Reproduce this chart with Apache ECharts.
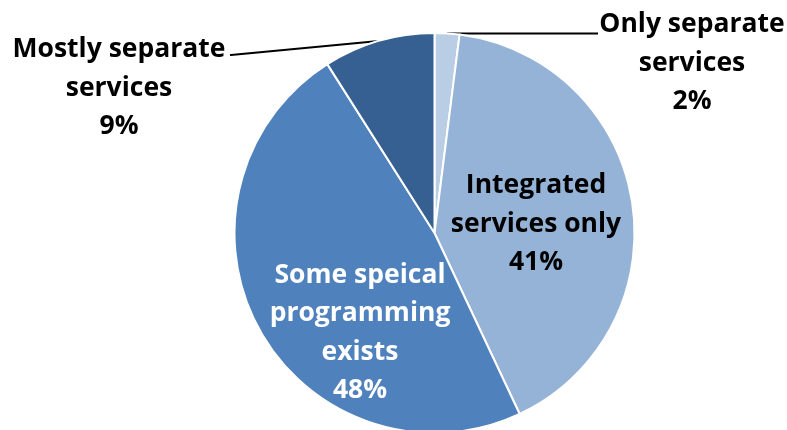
<!DOCTYPE html>
<html><head><meta charset="utf-8">
<script src="https://cdn.jsdelivr.net/npm/echarts@6/dist/echarts.min.js"></script>
<style>html,body{margin:0;padding:0;background:#fff}#c{width:787px;height:430px}</style>
</head><body><div id="c"></div>
<script>
var categories = ['Only separate\nservices', 'Integrated\nservices only', 'Some speical\nprogramming\nexists', 'Mostly separate\nservices'];
var values = [2, 41, 48, 9];
var colors = ['#B9CDE5', '#95B3D7', '#4F81BD', '#376092'];
var labelColors = ['#000', '#000', '#fff', '#000'];
var labelPos = [[692, 63], [536, 224], [360, 333], [119, 88]];

var chart = echarts.init(document.getElementById('c'));
chart.setOption({
  animation: false,
  series: [{
    type: 'pie',
    center: [434.5, 233],
    radius: 200,
    startAngle: 90,
    clockwise: true,
    data: categories.map(function (c, i) {
      return {
        name: c, value: values[i],
        itemStyle: { color: colors[i] },
        label: { color: labelColors[i], position: (i === 1 || i === 2) ? 'inside' : 'outside' },
        labelLine: { show: (i === 0 || i === 3) }
      };
    }),
    itemStyle: { borderColor: '#fff', borderWidth: 2 },
    label: {
      formatter: function (p) { return p.name + '\n' + Math.round(p.percent) + '%'; },
      fontFamily: 'Open Sans', fontWeight: 'bold', fontSize: 26.5, lineHeight: 38.5,
      align: 'center'
    },
    labelLine: { lineStyle: { color: '#000', width: 2 }, length: 20, length2: 20 },
    labelLayout: function (p) {
      var i = p.dataIndex;
      var res = { x: labelPos[i][0], y: labelPos[i][1], align: 'center', verticalAlign: 'middle' };
      if (i === 0) {
        var a = p.labelLinePoints ? p.labelLinePoints[0] : [447, 33];
        res.labelLinePoints = [a, [597, a[1]], [598, a[1]]];
      } else if (i === 3) {
        var b = p.labelLinePoints ? p.labelLinePoints[0] : [380, 38];
        res.labelLinePoints = [b, [231, 55], [230, 55]];
      }
      return res;
    }
  }]
});
</script></body></html>
